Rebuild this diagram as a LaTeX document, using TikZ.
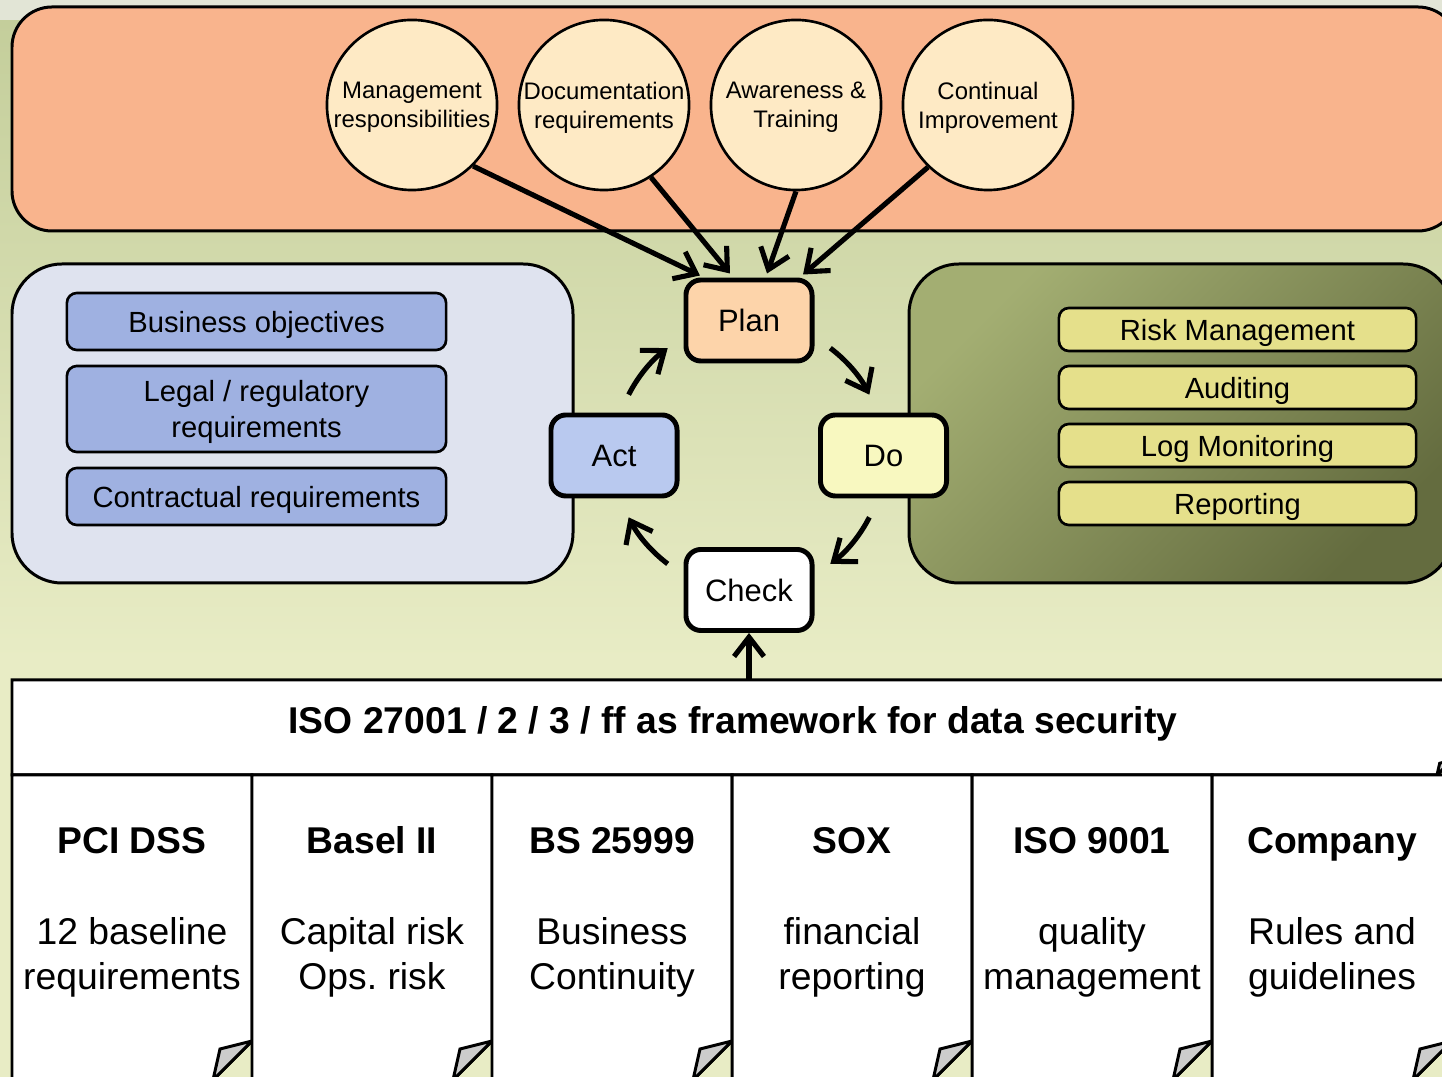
\documentclass[tikz,border=0pt]{standalone}
\usepackage{fontspec}
\setmainfont{Liberation Sans}
\usetikzlibrary{arrows.meta,calc}

\definecolor{bgtop}{HTML}{C4CE9B}
\definecolor{bgbot}{HTML}{E8ECC5}
\definecolor{bgstrip}{HTML}{E2E5D6}
\definecolor{orangepanel}{HTML}{F9B48D}
\definecolor{circfill}{HTML}{FEEAC5}
\definecolor{planfill}{HTML}{FDD4AA}
\definecolor{actfill}{HTML}{B9C9EF}
\definecolor{dofill}{HTML}{F8F8C0}
\definecolor{leftpanel}{HTML}{DFE3EF}
\definecolor{reqfill}{HTML}{9FB1E1}
\definecolor{olivetop}{HTML}{A3AE72}
\definecolor{olivebot}{HTML}{646C3F}
\definecolor{yellowfill}{HTML}{E5E08B}
\definecolor{flapgray}{HTML}{CCCCCC}

\newcommand\fsz[2]{\fontsize{#1}{#2}\selectfont}
\frenchspacing

\tikzset{
  panel/.style={draw=black, line width=0.85pt},
  circ/.style={circle, draw, line width=0.75pt, fill=circfill, minimum size=1.7cm,
    inner sep=0pt, align=center, text depth=0pt, font=\fsz{6.8}{8.25}},
  pdca/.style={draw, line width=1.4pt, rounded corners=0.15cm, minimum width=1.26cm,
    minimum height=0.81cm, inner sep=0pt, text depth=0pt, font=\fsz{8.8}{10}},
  req/.style={draw, line width=0.75pt, rounded corners=0.1cm, fill=reqfill,
    minimum width=3.79cm, inner sep=0pt, align=center, text depth=0pt, font=\fsz{8.3}{10.2}},
  task/.style={draw, line width=0.75pt, rounded corners=0.1cm, fill=yellowfill,
    minimum width=3.57cm, minimum height=0.43cm, inner sep=0pt, text depth=0pt, font=\fsz{8.3}{10}},
  arr/.style={line width=1.45pt, -{Straight Barb[length=5.5pt,width=8.5pt]}},
  tblline/.style={draw=black, line width=0.85pt},
  colhead/.style={font=\bfseries\fsz{10.6}{12.8}, align=center, inner sep=0pt, text depth=0pt},
  colbody/.style={font=\fsz{10.6}{12.8}, align=center, inner sep=0pt, text depth=0pt},
}

\begin{document}
\begin{tikzpicture}[x=0.01cm, y=-0.01cm]
\useasboundingbox (0,0) rectangle (1442,1077);
\clip (0,0) rectangle (1442,1077);

% slide background
\fill[bgbot] (0,0) rectangle (1442,1077);
\shade[top color=bgtop, bottom color=bgbot] (0,20) rectangle (1442,660);
\fill[bgstrip] (0,0) rectangle (1442,20);

% ISMS requirement panel with the four clauses
\draw[panel, fill=orangepanel, rounded corners=0.4cm] (12,7) rectangle (1458,231);
\node[circ] (mgmt)  at (412,105) {Management\\responsibilities};
\node[circ] (doc)   at (604,105) {Documentation\\requirements};
\node[circ] (aware) at (796,105) {Awareness \&\\Training};
\node[circ] (cont)  at (988,105) {Continual\\Improvement};

% inputs panel
\draw[panel, fill=leftpanel, rounded corners=0.5cm] (12,264) rectangle (573,583);
\node[req, minimum height=0.57cm] (bizobj) at (256.5,321.5) {Business objectives};
\node[req, minimum height=0.86cm] (legal)  at (256.5,409) {Legal / regulatory\\requirements};
\node[req, minimum height=0.57cm] (contr)  at (256.5,496.5) {Contractual requirements};

% operations panel
\draw[panel, top color=olivetop, bottom color=olivebot, shading angle=45,
      rounded corners=0.5cm] (909,264) rectangle (1453,583);
\node[task] (risk)  at (1237.5,329.5) {Risk Management};
\node[task] (audit) at (1237.5,387.5) {Auditing};
\node[task] (logm)  at (1237.5,445.5) {Log Monitoring};
\node[task] (rep)   at (1237.5,503.5) {Reporting};

% PDCA cycle
\node[pdca, fill=planfill] (Plan)  at (749,320.5) {Plan};
\node[pdca, fill=actfill]  (Act)   at (614,455.5) {Act};
\node[pdca, fill=dofill]   (Do)    at (883.5,455.5) {Do};
\node[pdca, fill=white]    (Check) at (749,590) {Check};

\coordinate (cyc) at (749,456);
\draw[arr] (cyc) ++(53:1.35cm)   arc[start angle=53,   end angle=27,   radius=1.35cm];
\draw[arr] (cyc) ++(-27:1.35cm)  arc[start angle=-27,  end angle=-53,  radius=1.35cm];
\draw[arr] (cyc) ++(-127:1.35cm) arc[start angle=-127, end angle=-153, radius=1.35cm];
\draw[arr] (cyc) ++(153:1.35cm)  arc[start angle=153,  end angle=127,  radius=1.35cm];

% clauses feeding the plan phase
\draw[arr] (mgmt.-45)   -- ([xshift=-0.49cm, yshift=0.02cm]Plan.north);
\draw[arr] (doc.-57)    -- ([xshift=-0.19cm, yshift=0.04cm]Plan.north);
\draw[arr] (aware.-90)  -- ([xshift=0.18cm,  yshift=0.04cm]Plan.north);
\draw[arr] (cont.-134)  -- ([xshift=0.54cm,  yshift=0.03cm]Plan.north);

% framework table: header row
\path[tblline, fill=white] (12,680) -- (1452,680) -- (1452,760) -- (1437,775) -- (12,775) -- cycle;
\filldraw[line width=0.85pt, fill=flapgray] (1452,760) -- (1439.7,763.3) -- (1437,775) -- cycle;
\node[minimum width=14.4cm, minimum height=0.95cm, anchor=north west, inner sep=0pt] (hdr) at (12,680) {};
\node[font=\bfseries\fsz{10.6}{12.8}, inner sep=0pt, text depth=0pt] (title) at (733,720)
  {ISO 27001 / 2 / 3 / ff as framework for data security};
\draw[arr] (hdr.north -| Check.south) -- (Check.south);

% framework table: one folded sheet per standard
\foreach \i/\head/\body in {
    0/PCI DSS/{12 baseline\\requirements},
    1/Basel II/{Capital risk\\Ops. risk},
    2/BS 25999/{Business\\Continuity},
    3/SOX/{financial\\reporting},
    4/ISO 9001/{quality\\management},
    5/Company/{Rules and\\guidelines}} {
  \pgfmathsetmacro\L{12+240*\i}
  \pgfmathsetmacro\R{\L+240}
  \path[tblline, fill=white] (\L,775) -- (\R,775) -- (\R,1041) -- (\R-39,1080) -- (\L,1080) -- cycle;
  \filldraw[line width=0.85pt, fill=flapgray] (\R,1041) -- (\R-32,1049) -- (\R-39,1080) -- cycle;
  \node[colhead] (head\i) at (\L+120,840) {\head};
  \node[colbody] (body\i) at (\L+120,953.5) {\body};
}
\end{tikzpicture}
\end{document}
